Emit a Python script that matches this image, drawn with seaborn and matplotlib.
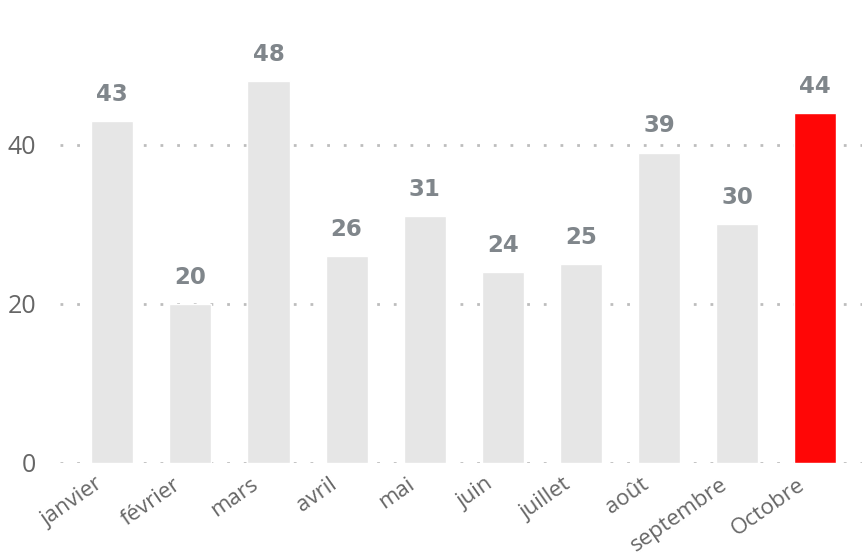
import matplotlib
matplotlib.use("Agg")
import matplotlib.pyplot as plt
import matplotlib.transforms as mtransforms
import seaborn as sns
import pandas as pd

# data
months = ['janvier', 'février', 'mars', 'avril', 'mai', 'juin',
          'juillet', 'août', 'septembre', 'Octobre']
values = [43, 20, 48, 26, 31, 24, 25, 39, 30, 44]
highlight = 'Octobre'

df = pd.DataFrame({'mois': months, 'valeur': values})
colors = ['#ff0606' if m == highlight else '#e6e6e6' for m in months]

sns.set_style('white')
plt.rcParams['font.family'] = ['Open Sans', 'DejaVu Sans']

fig = plt.figure(figsize=(8.65, 5.54), dpi=100)
ax = fig.add_axes([60 / 865, 91 / 554, 802 / 865, 463 / 554])

sns.barplot(data=df, x='mois', y='valeur', hue='mois', palette=colors,
            legend=False, width=0.54, saturation=1, ax=ax, zorder=2)

ax.set_ylim(0, 58.2)
ax.set_xlim(-0.67, 9.6)
ax.set_yticks([0, 20, 40])
ax.yaxis.grid(True, color='#bdbdbd', linestyle=(0, (1, 5)), linewidth=2)
ax.set_axisbelow(True)
sns.despine(ax=ax, left=True, bottom=True)
ax.set_xlabel('')
ax.set_ylabel('')
ax.tick_params(axis='both', length=0, colors='#666666')
ax.tick_params(axis='y', labelsize=18, pad=17)
ax.tick_params(axis='x', labelsize=16, pad=8)

# shift the rotated month labels a bit to the left, like the original
shift = mtransforms.ScaledTranslation(-18 / 100, 0, fig.dpi_scale_trans)
for lab in ax.get_xticklabels():
    lab.set_rotation(35)
    lab.set_ha('right')
    lab.set_rotation_mode('anchor')
    lab.set_transform(lab.get_transform() + shift)

for cont in ax.containers:
    ax.bar_label(cont, fmt='%d', padding=11, fontsize=16.5, fontweight='bold',
                 color='#80868b', family='DejaVu Sans')

fig.savefig('out.png', dpi=100)
